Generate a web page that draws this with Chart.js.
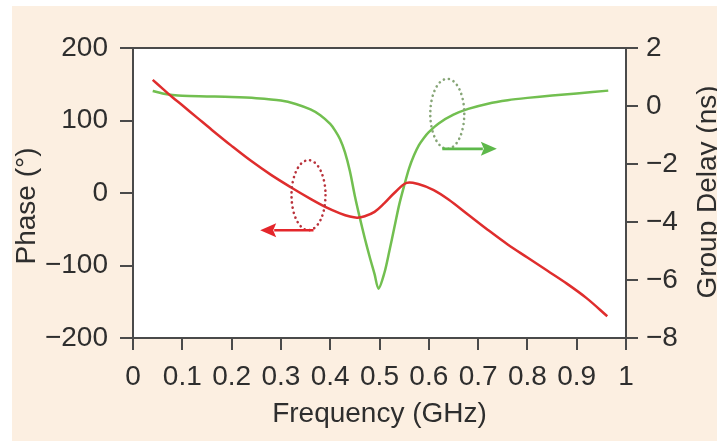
<!DOCTYPE html>
<html><head><meta charset="utf-8">
<script src="https://cdn.jsdelivr.net/npm/chart.js@4/dist/chart.umd.min.js"></script>
<style>html,body{margin:0;padding:0;background:#fff}canvas{display:block}</style>
</head><body>
<canvas id="c" width="717" height="441"></canvas>
<script>
// ---- data ----
const freqPhase = [0.04,0.06,0.08,0.10,0.13,0.16,0.20,0.24,0.28,0.32,0.36,0.39,0.42,0.44,0.455,0.47,0.49,0.51,0.53,0.555,0.58,0.61,0.64,0.68,0.72,0.76,0.80,0.84,0.88,0.92,0.962];
const phaseDeg  = [156,144,132,121,104,87,65,44,25,8,-8,-19,-28,-32.5,-34,-32,-26,-14,0,14,12,4,-9,-30,-51,-71,-89,-107,-125,-145,-170];

const freqDelay = [0.04,0.06,0.08,0.10,0.15,0.20,0.25,0.30,0.33,0.36,0.38,0.40,0.41,0.42,0.43,0.44,0.45,0.46,0.47,0.48,0.49,0.498,0.51,0.52,0.53,0.54,0.55,0.56,0.57,0.58,0.59,0.60,0.62,0.65,0.68,0.72,0.76,0.80,0.85,0.90,0.964];
const delayNs   = [0.52,0.43,0.38,0.35,0.33,0.31,0.27,0.19,0.07,-0.12,-0.32,-0.62,-0.85,-1.15,-1.6,-2.25,-3.1,-3.85,-4.55,-5.2,-5.8,-6.3,-5.75,-5.0,-4.2,-3.4,-2.75,-2.15,-1.7,-1.35,-1.1,-0.9,-0.6,-0.3,-0.1,0.08,0.2,0.28,0.36,0.43,0.53];

const xTickLabels     = ['0','0.1','0.2','0.3','0.4','0.5','0.6','0.7','0.8','0.9','1'];
const phaseTickLabels = ['\u2212200','\u2212100','0','100','200'];
const delayTickLabels = ['\u22128','\u22126','\u22124','\u22122','0','2'];

const xTitle = 'Frequency (GHz)';
const phaseTitle = 'Phase (\u00b0)';
const delayTitle = 'Group Delay (ns)';

// annotation anchors (data units): ellipse centre and arrow end
const phaseMarkerF = [0.356, 0.258];   // ellipse centre freq, arrow tip freq
const phaseMarkerV = [-3, -50];        // ellipse centre phase
const delayMarkerF = [0.6375, 0.738];
const delayMarkerV = [-0.27, -1.49];

// ---- styles ----
const RED = '#df2d2d', GREEN = '#72bf50';
const AXIS = '#4a4a4a', TEXT = '#2e2e2e';
const FONT = "'Liberation Sans', Arial, Helvetica, sans-serif";
const FS = 28;

const bgPlugin = {
  id: 'bg',
  beforeDraw(chart) {
    const {ctx, chartArea: a} = chart;
    ctx.save();
    ctx.fillStyle = '#ffffff';
    ctx.fillRect(0, 0, chart.width, chart.height);
    ctx.fillStyle = '#fcefe1';
    ctx.fillRect(12, 6, chart.width - 12, chart.height - 6);
    ctx.fillStyle = '#ffffff';
    ctx.fillRect(a.left, a.top, a.right - a.left, a.bottom - a.top);
    ctx.restore();
  }
};

function drawMarker(ctx, cx, cy, tipX, color, arrowColor) {
  const rx = 17, ry = 35;
  ctx.save();
  ctx.strokeStyle = color;
  ctx.lineWidth = 2.6;
  ctx.lineCap = 'round';
  ctx.setLineDash([0.1, 5]);
  ctx.beginPath();
  ctx.ellipse(cx, cy, rx, ry, 0, 0, Math.PI * 2);
  ctx.stroke();
  ctx.setLineDash([]);
  ctx.lineCap = 'butt';
  const y = cy + ry;
  const dir = Math.sign(tipX - cx);
  const headLen = 16, headW = 7;
  ctx.strokeStyle = arrowColor;
  ctx.fillStyle = arrowColor;
  ctx.lineWidth = 2.6;
  ctx.beginPath();
  ctx.moveTo(cx - dir * 5, y);
  ctx.lineTo(tipX - dir * headLen + dir * 2, y);
  ctx.stroke();
  ctx.beginPath();
  ctx.moveTo(tipX, y);
  ctx.lineTo(tipX - dir * headLen, y - headW);
  ctx.lineTo(tipX - dir * headLen + dir * 3, y);
  ctx.lineTo(tipX - dir * headLen, y + headW);
  ctx.closePath();
  ctx.fill();
  ctx.restore();
}

const overlayPlugin = {
  id: 'overlay',
  afterDatasetsDraw(chart) {
    const {ctx, scales} = chart;
    const x = scales.x, y = scales.y, y2 = scales.y2;
    drawMarker(ctx, x.getPixelForValue(phaseMarkerF[0]), y.getPixelForValue(phaseMarkerV[0]),
               x.getPixelForValue(phaseMarkerF[1]), '#b9323b', '#e4262b');
    drawMarker(ctx, x.getPixelForValue(delayMarkerF[0]), y2.getPixelForValue(delayMarkerV[0]),
               x.getPixelForValue(delayMarkerF[1]), '#86a576', '#5db84a');
  },
  afterDraw(chart) {
    const {ctx, chartArea: a} = chart;
    ctx.save();
    ctx.strokeStyle = AXIS;
    ctx.lineWidth = 2;
    ctx.strokeRect(a.left, a.top, a.right - a.left, a.bottom - a.top);
    ctx.fillStyle = TEXT;
    ctx.font = FS + 'px ' + FONT;
    ctx.textAlign = 'center';
    ctx.textBaseline = 'alphabetic';
    ctx.save();
    ctx.translate(35, 206);
    ctx.rotate(-Math.PI / 2);
    ctx.fillText(phaseTitle, 0, 0);
    ctx.restore();
    ctx.save();
    ctx.translate(716, 192);
    ctx.rotate(-Math.PI / 2);
    ctx.fillText(delayTitle, 0, 0);
    ctx.restore();
    ctx.restore();
  }
};

const tickFont = {family: FONT, size: FS};

new Chart(document.getElementById('c'), {
  type: 'line',
  data: {
    datasets: [
      {label: 'Phase', data: freqPhase.map((f, i) => ({x: f, y: phaseDeg[i]})), yAxisID: 'y',
       borderColor: RED, borderWidth: 2.5, pointRadius: 0, tension: 0.35},
      {label: 'Group Delay', data: freqDelay.map((f, i) => ({x: f, y: delayNs[i]})), yAxisID: 'y2',
       borderColor: GREEN, borderWidth: 2.5, pointRadius: 0, tension: 0.3}
    ]
  },
  options: {
    responsive: false,
    animation: false,
    events: [],
    layout: {padding: {top: 48, left: 0, right: 0, bottom: 0}},
    plugins: {legend: {display: false}, tooltip: {enabled: false}},
    scales: {
      x: {
        type: 'linear', position: 'bottom', min: 0, max: 1,
        afterFit(s) { s.height = 103; },
        afterBuildTicks(s) { s.ticks = xTickLabels.map((t, i) => ({value: i / 10})); },
        ticks: {font: tickFont, color: TEXT, padding: 10, maxRotation: 0, autoSkip: false,
                callback: (v, i) => xTickLabels[i]},
        grid: {drawOnChartArea: false, drawTicks: true, tickLength: 12, color: AXIS, lineWidth: 2},
        border: {display: false},
        title: {display: true, text: xTitle, font: tickFont, color: TEXT, padding: {top: 0, bottom: 10}}
      },
      y: {
        type: 'linear', position: 'left', min: -200, max: 200,
        afterFit(s) { s.width = 133; },
        afterBuildTicks(s) { s.ticks = phaseTickLabels.map((t, i) => ({value: -200 + 100 * i})); },
        ticks: {font: tickFont, color: TEXT, padding: 12, autoSkip: false,
                callback: (v, i) => phaseTickLabels[i]},
        grid: {drawOnChartArea: false, drawTicks: true, tickLength: 13, color: AXIS, lineWidth: 2},
        border: {display: false}
      },
      y2: {
        type: 'linear', position: 'right', min: -8, max: 2,
        afterFit(s) { s.width = 91; },
        afterBuildTicks(s) { s.ticks = delayTickLabels.map((t, i) => ({value: -8 + 2 * i})); },
        ticks: {font: tickFont, color: TEXT, padding: 8, autoSkip: false,
                callback: (v, i) => delayTickLabels[i]},
        grid: {drawOnChartArea: false, drawTicks: true, tickLength: 12, color: AXIS, lineWidth: 2},
        border: {display: false}
      }
    }
  },
  plugins: [bgPlugin, overlayPlugin]
});
</script>
</body></html>
